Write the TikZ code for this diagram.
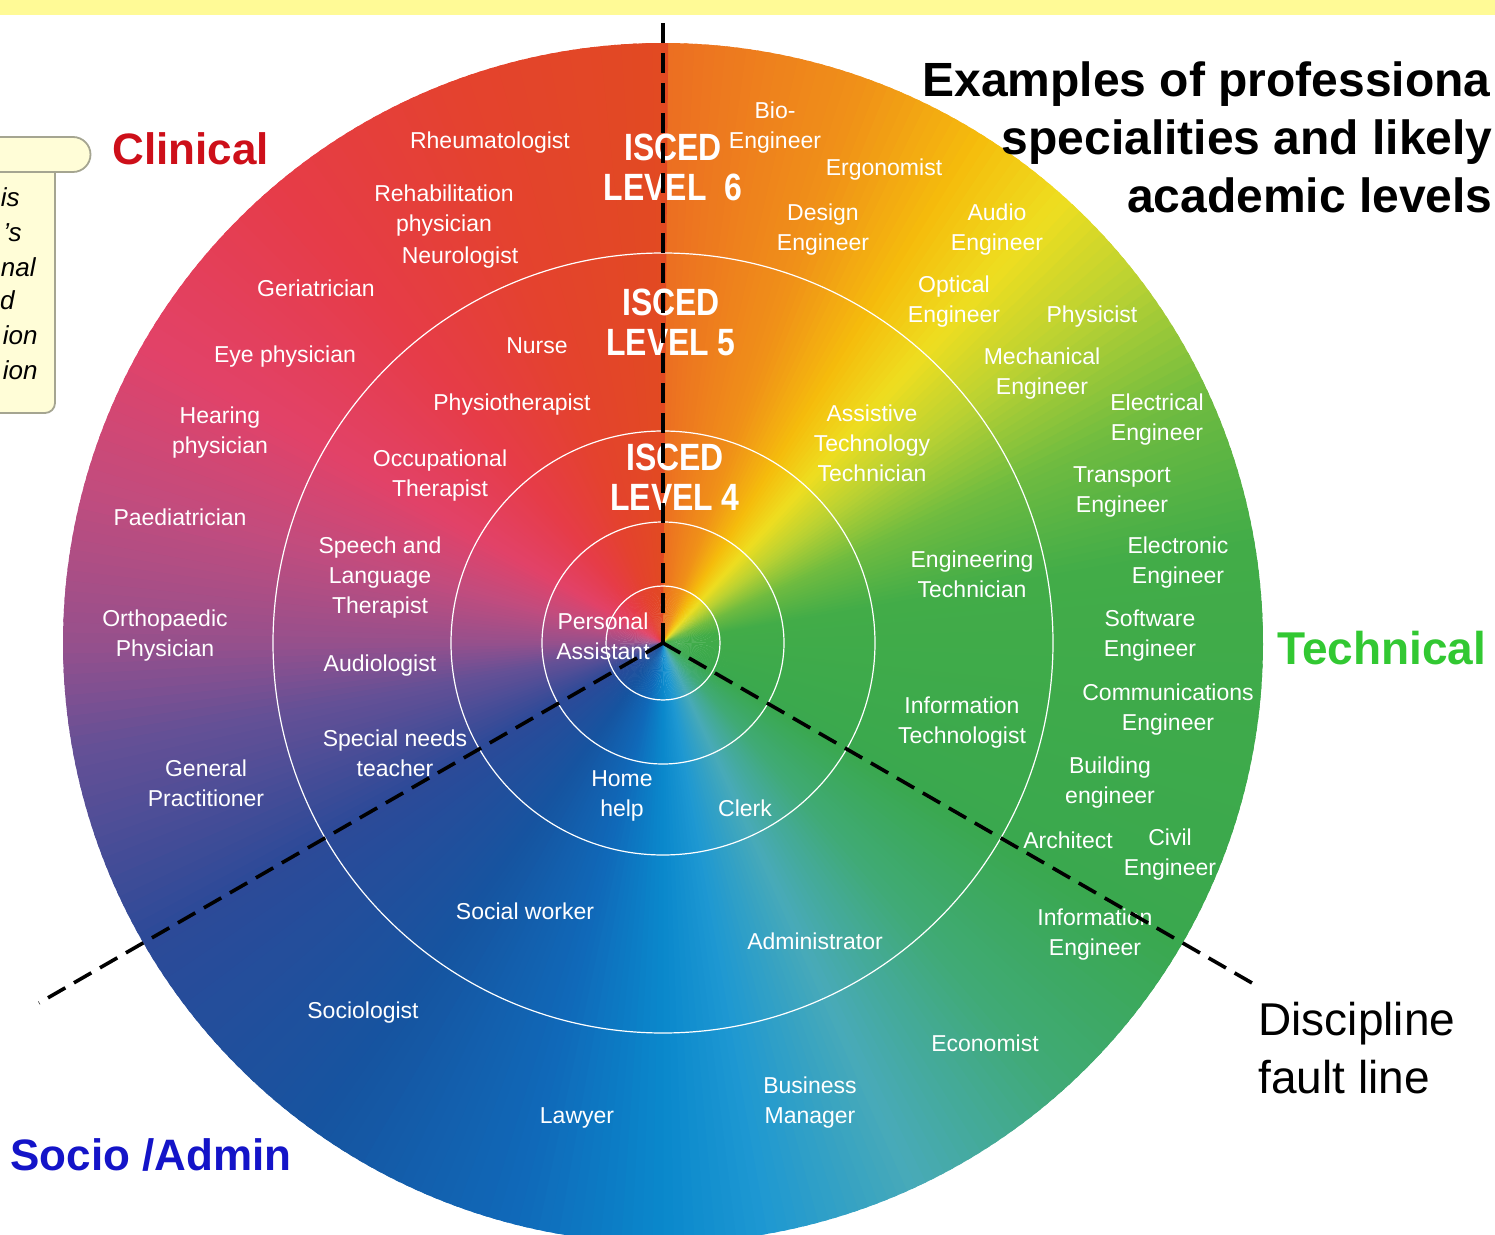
\documentclass[tikz,border=0pt]{standalone}
\usepackage{fontspec}
\setmainfont{Liberation Sans}
\newfontfamily\narrowfont[FakeStretch=0.84]{Liberation Sans}
\usepackage{tikz}

\definecolor{strip}{RGB}{255,250,150}
\definecolor{notefill}{RGB}{255,253,215}
\definecolor{noteline}{RGB}{165,165,145}
\definecolor{clinred}{RGB}{205,15,25}
\definecolor{techgreen}{RGB}{50,200,50}
\definecolor{socioblue}{RGB}{20,20,200}
% wheel colours, clockwise from the top
\definecolor{w0}{RGB}{236,110,34}
\definecolor{w1}{RGB}{240,146,24}
\definecolor{w2}{RGB}{245,188,12}
\definecolor{w3}{RGB}{238,222,32}
\definecolor{w4}{RGB}{188,210,50}
\definecolor{w5}{RGB}{112,188,64}
\definecolor{w6}{RGB}{66,172,72}
\definecolor{w7}{RGB}{58,168,78}
\definecolor{w8}{RGB}{64,170,118}
\definecolor{w9}{RGB}{72,170,184}
\definecolor{w10}{RGB}{30,152,210}
\definecolor{w11}{RGB}{10,136,204}
\definecolor{w12}{RGB}{16,104,184}
\definecolor{w13}{RGB}{22,84,160}
\definecolor{w14}{RGB}{44,74,152}
\definecolor{w15}{RGB}{102,80,150}
\definecolor{w16}{RGB}{150,80,140}
\definecolor{w17}{RGB}{194,76,126}
\definecolor{w18}{RGB}{226,66,104}
\definecolor{w19}{RGB}{230,60,72}
\definecolor{w20}{RGB}{228,66,46}
\definecolor{w21}{RGB}{226,74,34}

\begin{document}
\begin{tikzpicture}[x=0.5pt,y=0.5pt,
	job/.style={text=white,font=\fontsize{11.5}{15}\selectfont,align=center,inner sep=0pt},
	isced/.style={text=white,font=\narrowfont\bfseries\fontsize{19}{20}\selectfont,align=center,inner sep=0pt},
	sector/.style={font=\bfseries\fontsize{22}{26}\selectfont,anchor=base west,inner sep=0pt},
	heading/.style={font=\bfseries\fontsize{24}{29}\selectfont,inner sep=0pt},
	notetext/.style={font=\itshape\fontsize{13}{17}\selectfont,anchor=base east,inner sep=0pt},
	ring/.style={white,line width=0.6pt},
	faultline/.style={line width=1.8pt,dash pattern=on 10pt off 5pt},
	note/.style={fill=notefill,draw=noteline,line width=0.9pt}]
	\useasboundingbox (0,0) rectangle (1495,-1235);
	\clip (0,0) rectangle (1495,-1235);
	\fill[strip] (0,0) rectangle (1495,-15);

	% note box, cut by the left edge
	\draw[note] (-20,-172) -- (55,-172) -- (55,-403) arc[start angle=0,end angle=-90,radius=10] -- (-20,-413) -- cycle;
	\draw[note] (-20,-137) -- (73,-137) arc[start angle=90,end angle=-90,radius=17.5] -- (-20,-172) -- cycle;
	\node[notetext] (n1) at (20,-207) {is};
	\node[notetext] (n2) at (22,-242) {'s};
	\node[notetext] (n3) at (36,-277) {nal};
	\node[notetext] (n4) at (15,-310) {d};
	\node[notetext] (n5) at (38,-345) {ion};
	\node[notetext] (n6) at (38,-380) {ion};

	% colour wheel
	\coordinate (hub) at (663,-643);
	\begin{scope}[shift={(663,-643)}]
		\foreach \a/\b/\ca/\cb in {90/70/w0/w1,70/58/w1/w2,58/48/w2/w3,48/38/w3/w4,38/25/w4/w5,
			25/10/w5/w6,10/-30/w6/w7,-30/-48/w7/w8,-48/-65/w8/w9,-65/-80/w9/w10,-80/-90/w10/w11,
			-90/-105/w11/w12,-105/-125/w12/w13,-125/-150/w13/w14,-150/-170/w14/w15,-170/-180/w15/w16,
			-180/-195/w16/w17,-195/-210/w17/w18,-210/-230/w18/w19,-230/-250/w19/w20,-250/-270/w20/w21}{
			\pgfmathtruncatemacro\n{\a-\b}
			\foreach \i in {1,...,\n}{
				\pgfmathtruncatemacro\p{100*(\i-0.5)/\n}
				\pgfmathsetmacro\s{\a-\i+1}
				\pgfmathsetmacro\e{\a-\i-0.5}
				\fill[\cb!\p!\ca] (0,0) -- (\s:600) arc[start angle=\s,end angle=\e,radius=600] -- cycle;
			}
		}
		\foreach \r in {390,212,121,57}
			\draw[ring] (0,0) circle[radius=\r];
	\end{scope}

	% level 6 ring
	\node[job] (rheum) at (490,-143) {Rheumatologist};
	\node[job] (rehab) at (444,-211) {Rehabilitation\\physician};
	\node[job] (neuro) at (460,-258) {Neurologist};
	\node[job] (geria) at (316,-288) {Geriatrician};
	\node[job] (eye) at (285,-357) {Eye physician};
	\node[job] (hearing) at (220,-433) {Hearing\\physician};
	\node[job] (paed) at (180,-517) {Paediatrician};
	\node[job] (ortho) at (165,-636) {Orthopaedic\\Physician};
	\node[job] (gp) at (206,-783) {General\\Practitioner};
	\node[job] (sociol) at (363,-1013) {Sociologist};
	\node[job] (lawyer) at (577,-1118) {Lawyer};
	\node[job] (business) at (810,-1103) {Business\\Manager};
	\node[job] (econ) at (985,-1043) {Economist};
	\node[job] (infoeng) at (1095,-935) {Information\\Engineer};
	\node[job] (architect) at (1068,-840) {Architect};
	\node[job] (civil) at (1170,-855) {Civil\\Engineer};
	\node[job] (building) at (1110,-783) {Building\\engineer};
	\node[job] (comms) at (1168,-710) {Communications\\Engineer};
	\node[job] (software) at (1150,-636) {Software\\Engineer};
	\node[job] (electronic) at (1178,-563) {Electronic\\Engineer};
	\node[job] (transport) at (1122,-492) {Transport\\Engineer};
	\node[job] (electrical) at (1157,-420) {Electrical\\Engineer};
	\node[job] (mech) at (1042,-374) {Mechanical\\Engineer};
	\node[job] (physicist) at (1092,-317) {Physicist};
	\node[job] (optical) at (954,-302) {Optical\\Engineer};
	\node[job] (audio) at (997,-230) {Audio\\Engineer};
	\node[job] (design) at (823,-230) {Design\\Engineer};
	\node[job] (ergo) at (884,-170) {Ergonomist};
	\node[job] (bio) at (775,-128) {Bio-\\Engineer};

	% level 5 ring
	\node[job] (nurse) at (537,-346) {Nurse};
	\node[job] (physio) at (512,-405) {Physiotherapist};
	\node[job] (occ) at (440,-476) {Occupational\\Therapist};
	\node[job] (speech) at (380,-578) {Speech and\\Language\\Therapist};
	\node[job] (audiol) at (380,-666) {Audiologist};
	\node[job] (special) at (395,-753) {Special needs\\teacher};
	\node[job] (social) at (525,-911) {Social worker};
	\node[job] (admin) at (815,-941) {Administrator};
	\node[job] (infotech) at (962,-723) {Information\\Technologist};
	\node[job] (engtech) at (972,-574) {Engineering\\Technician};
	\node[job] (assist) at (872,-443) {Assistive\\Technology\\Technician};

	% level 4 and inside
	\node[job] (home) at (622,-796) {Home\\help};
	\node[job] (clerk) at (745,-808) {Clerk};
	\node[job] (pa) at (603,-636) {Personal\\Assistant};

	\node[isced] (lev6) at (673,-167) {ISCED\\LEVEL~~6};
	\node[isced] (lev5) at (671,-322) {ISCED\\LEVEL 5};
	\node[isced] (lev4) at (675,-477) {ISCED\\LEVEL 4};

	% fault lines
	\coordinate (topend) at (663,-18);
	\coordinate (leftend) at (39,-1003);
	\coordinate (rightend) at (1252,-983);
	\draw[faultline] (hub) -- (topend);
	\draw[faultline] (hub) -- (leftend);
	\draw[faultline] (hub) -- (rightend);

	% headings
	\node[heading,anchor=base west] (title1) at (922,-97) {Examples of professiona};
	\node[heading,anchor=base east] (title2) at (1493,-155) {specialities and likely};
	\node[heading,anchor=base east] (title3) at (1493,-213) {academic levels};
	\node[sector,text=clinred] (clinical) at (112,-165) {Clinical};
	\node[sector,text=techgreen,font=\bfseries\fontsize{23}{26}\selectfont] (technical) at (1277,-664) {Technical};
	\node[sector,text=socioblue] (socio) at (10,-1170) {Socio /Admin};
	\node[font=\fontsize{23}{29}\selectfont,anchor=base west,inner sep=0pt] (disc1) at (1258,-1035) {Discipline};
	\node[font=\fontsize{23}{29}\selectfont,anchor=base west,inner sep=0pt] (disc2) at (1258,-1093) {fault line};
\end{tikzpicture}
\end{document}
